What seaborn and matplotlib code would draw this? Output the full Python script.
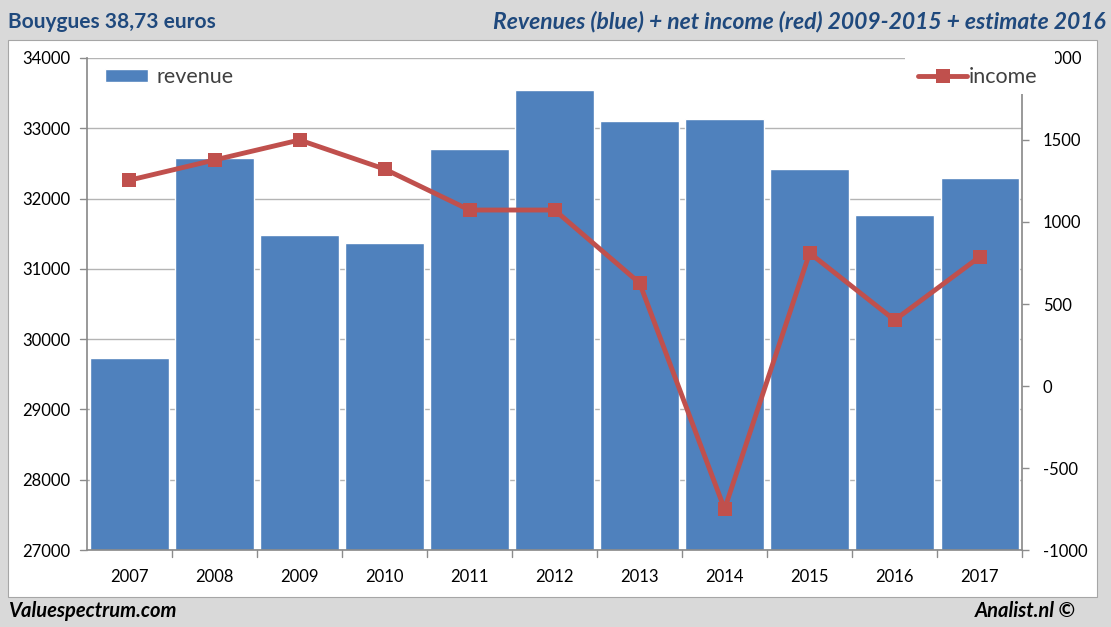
import numpy as np
import matplotlib
matplotlib.use("Agg")
import matplotlib.pyplot as plt
import seaborn as sns
from matplotlib.patches import Rectangle

years = ["2007", "2008", "2009", "2010", "2011", "2012", "2013", "2014", "2015", "2016", "2017"]
revenue = [29730, 32580, 31480, 31370, 32710, 33545, 33105, 33130, 32420, 31765, 32295]
income = [1255, 1378, 1500, 1323, 1073, 1073, 628, -750, 811, 402, 787]

left_ticks = [27000, 28000, 29000, 30000, 31000, 32000, 33000, 34000]
right_ticks = [-1000, -500, 0, 500, 1000, 1500, 2000]

BAR_COLOR = "#4f81bd"
LINE_COLOR = "#c0504d"
TITLE_COLOR = "#1f497d"
GRID_COLOR = "#b4b4b4"

sns.set_theme(style="white")
plt.rcParams['font.family'] = ['Lato', 'DejaVu Sans']

fig = plt.figure(figsize=(11.11, 6.27), dpi=100, facecolor="#d9d9d9")

# white chart panel behind the axes
fig.patches.append(Rectangle((0.0072, 0.0478), 0.980, 0.888, transform=fig.transFigure,
                             facecolor="white", edgecolor="#a6a6a6", linewidth=0.8, zorder=-5))

ax = fig.add_axes([0.0783, 0.1228, 0.8417, 0.7847])
ax.set_facecolor("none")

sns.barplot(x=years, y=revenue, color=BAR_COLOR, saturation=1, width=0.92, ax=ax,
            label="revenue", zorder=2)
ax.set_ylim(27000, 34000)
ax.set_xlim(-0.5, len(years) - 0.5)
ax.set_yticks(left_ticks)
ax.set_yticklabels([str(t) for t in left_ticks], fontsize=12, color="black")
ax.tick_params(axis="x", labelsize=12, length=0, pad=14, colors="black")
ax.tick_params(axis="y", length=0, pad=12)
for t in left_ticks:
    ax.axhline(t, color=GRID_COLOR, linewidth=1, zorder=1)
# category boundary ticks on x-axis
for b in np.arange(0.5, len(years) - 0.5 + 1, 1.0):
    ax.plot([b, b], [27000, 26900], color="#8c8c8c", linewidth=1, clip_on=False)
for s in ["top", "right"]:
    ax.spines[s].set_visible(False)
ax.spines["left"].set_color("#8c8c8c")
ax.spines["bottom"].set_color("#8c8c8c")
ax.set_xlabel("")
ax.set_ylabel("")
for t in left_ticks:
    ax.plot([-0.5, -0.58], [t, t], color="#8c8c8c", linewidth=1, clip_on=False)

ax2 = ax.twinx()
sns.lineplot(x=np.arange(len(years)), y=income, ax=ax2, color=LINE_COLOR, linewidth=3.5,
             marker="s", markersize=10, markeredgewidth=0, label="income", zorder=3)
ax2.set_ylim(-1000, 2000)
ax2.set_yticks(right_ticks)
ax2.set_yticklabels([str(t) for t in right_ticks], fontsize=12, color="black")
ax2.tick_params(axis="y", length=5, width=1, color="#8c8c8c", pad=10, direction="out")
for s in ["top", "left", "bottom"]:
    ax2.spines[s].set_visible(False)
ax2.spines["right"].set_color("#8c8c8c")
ax2.set_ylabel("")

# the income legend box sits over the top of the right axis, hiding part of "2000"
ax2.add_patch(Rectangle((0.875, 0.927), 0.1605, 0.095, transform=ax2.transAxes,
                        facecolor="white", edgecolor="none", clip_on=False, zorder=9))

leg1 = ax.legend(loc="center left", bbox_to_anchor=(0.019, 0.961), frameon=False,
                 fontsize=15.5, handlelength=2.0, handleheight=0.55, handletextpad=0.4,
                 borderpad=0, borderaxespad=0, labelcolor="#404040")
leg2 = ax2.legend(loc="center left", bbox_to_anchor=(0.889, 0.961), frameon=False,
                  fontsize=15.5, handlelength=2.25, handletextpad=0.1,
                  borderpad=0, borderaxespad=0, labelcolor="#404040")
leg2.set_zorder(10)

fig.text(0.007, 0.965, "Bouygues 38,73 euros", fontsize=15, fontweight="bold",
         color=TITLE_COLOR, va="center", ha="left")
fig.text(0.995, 0.965, "Revenues (blue) + net income (red) 2009-2015 + estimate 2016",
         fontsize=16.5, fontweight="bold", style="italic", color=TITLE_COLOR, va="center", ha="right")
fig.text(0.007, 0.025, "Valuespectrum.com", fontsize=14.5, fontweight="bold", style="italic",
         color="black", va="center", ha="left")
fig.text(0.968, 0.025, "Analist.nl \u00a9", fontsize=14.5, fontweight="bold", style="italic",
         color="black", va="center", ha="right")

fig.savefig("out.png", dpi=100, facecolor=fig.get_facecolor())
